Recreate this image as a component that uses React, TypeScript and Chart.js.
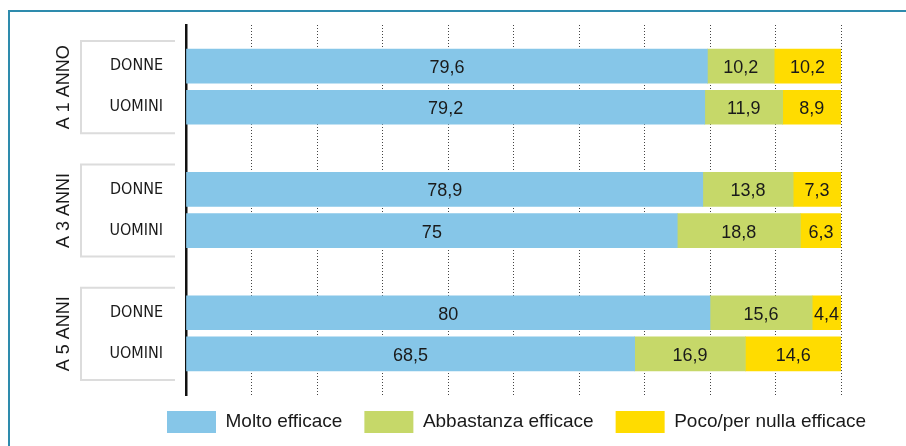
import { useEffect, useRef } from "react";
import { Chart, registerables } from "chart.js";

Chart.register(...registerables);

// ---- data ----
const groups = ["A 1 ANNO", "A 3 ANNI", "A 5 ANNI"];
const subCategories = ["DONNE", "UOMINI"];
const seriesNames = ["Molto efficace", "Abbastanza efficace", "Poco/per nulla efficace"];
const molto = [79.6, 79.2, 78.9, 75, 80, 68.5];
const abbastanza = [10.2, 11.9, 13.8, 18.8, 15.6, 16.9];
const poco = [10.2, 8.9, 7.3, 6.3, 4.4, 14.6];
const seriesColors = ["#86C6E8", "#C6D869", "#FFDC00"];
const xMin = 0;
const xMax = 100;
const xStep = 10;

// spacer slots between groups: '', D, U, '', D, U, '', D, U, ''
const labels: string[] = [""];
groups.forEach(() => {
  subCategories.forEach((s) => labels.push(s));
  labels.push("");
});
const padSeries = (arr: number[]) => {
  const out: (number | null)[] = [null];
  groups.forEach((_, gi) => {
    subCategories.forEach((__, si) => out.push(arr[gi * subCategories.length + si]));
    out.push(null);
  });
  return out;
};

const FONT = '"Liberation Sans", Arimo, Arial, sans-serif';
const NARROW = '"Liberation Sans Narrow", "Arial Narrow", "DejaVu Sans Condensed", sans-serif';
const TEXT = "#1a1a1a";

const groupPlugin = {
  id: "groupBrackets",
  afterDraw(chart: any) {
    const ctx = chart.ctx;
    const y = chart.scales.y;
    const left = chart.chartArea.left;
    groups.forEach((g, gi) => {
      const i0 = 1 + gi * (subCategories.length + 1);
      const i1 = i0 + subCategories.length - 1;
      const top = y.getPixelForValue(i0) - 25;
      const bottom = y.getPixelForValue(i1) + 26;
      ctx.save();
      ctx.strokeStyle = "#dcdcdc";
      ctx.lineWidth = 2;
      ctx.beginPath();
      ctx.moveTo(left - 11, top);
      ctx.lineTo(left - 105, top);
      ctx.lineTo(left - 105, bottom);
      ctx.lineTo(left - 11, bottom);
      ctx.stroke();
      ctx.translate(left - 122, (top + bottom) / 2);
      ctx.rotate(-Math.PI / 2);
      ctx.font = "18px " + FONT;
      ctx.fillStyle = TEXT;
      ctx.textAlign = "center";
      ctx.textBaseline = "middle";
      ctx.fillText(g, 0, 0);
      ctx.restore();
    });
  },
};

const valuePlugin = {
  id: "valueLabels",
  afterDatasetsDraw(chart: any) {
    const ctx = chart.ctx;
    ctx.save();
    ctx.font = "18px " + FONT;
    ctx.fillStyle = TEXT;
    ctx.textAlign = "center";
    ctx.textBaseline = "middle";
    chart.data.datasets.forEach((ds: any, di: number) => {
      const meta = chart.getDatasetMeta(di);
      meta.data.forEach((bar: any, i: number) => {
        const v = ds.data[i];
        if (v == null) return;
        const p = bar.getProps(["x", "y", "base"], true);
        ctx.fillText(String(v).replace(".", ","), (p.x + p.base) / 2, p.y + 2);
      });
    });
    ctx.restore();
  },
};

// place the legend row so that it starts under the plot like in the original
const legendPlace = {
  id: "legendPlace",
  afterLayout(chart: any) {
    const lg = chart.legend;
    if (!lg) return;
    lg.left = 145;
    lg.right = 906;
  },
};

export default function App() {
  const ref = useRef<HTMLCanvasElement | null>(null);

  useEffect(() => {
    if (!ref.current) return;
    const chart = new Chart(ref.current, {
      type: "bar",
      data: {
        labels,
        datasets: [molto, abbastanza, poco].map((arr, k) => ({
          label: seriesNames[k],
          data: padSeries(arr),
          backgroundColor: seriesColors[k],
          borderWidth: 0,
          barThickness: 34,
        })),
      },
      options: {
        indexAxis: "y",
        animation: false,
        responsive: false,
        devicePixelRatio: 1,
        layout: { padding: { left: 0, right: 65, top: 25, bottom: -3 } },
        scales: {
          x: {
            stacked: true,
            min: xMin,
            max: xMax,
            ticks: { display: false, stepSize: xStep },
            grid: { color: "#444", lineWidth: 1, drawTicks: false },
            border: { display: false, dash: [1, 2] },
            afterFit: (s: any) => {
              s.height = -6;
              s.paddingLeft = 0;
              s.paddingRight = 0;
            },
          },
          y: {
            type: "category",
            stacked: true,
            offset: false,
            grid: { display: false, drawTicks: false },
            border: { display: true, color: "#111", width: 2.5 },
            ticks: {
              autoSkip: false,
              padding: 23,
              color: TEXT,
              font: { family: NARROW, size: 16 },
            },
            afterFit: (s: any) => {
              s.width = 186;
              s.paddingTop = 0;
              s.paddingBottom = 0;
            },
          },
        },
        plugins: {
          legend: {
            position: "bottom",
            align: "start",
            fullSize: true,
            labels: {
              boxWidth: 49,
              boxHeight: 22,
              padding: 22,
              color: TEXT,
              font: { family: FONT, size: 19 },
            },
          },
          tooltip: { enabled: false },
        },
      },
      plugins: [groupPlugin, valuePlugin, legendPlace],
    } as any);
    return () => chart.destroy();
  }, []);

  return (
    <div
      style={{
        position: "fixed",
        left: 0,
        top: 0,
        width: 906,
        height: 446,
        overflow: "hidden",
        background: "#fff",
      }}
    >
      <div
        style={{
          position: "absolute",
          left: 8,
          top: 10,
          width: 1000,
          height: 1000,
          borderTop: "2px solid #2e8bad",
          borderLeft: "2px solid #2e8bad",
        }}
      />
      <canvas
        ref={ref}
        width={906}
        height={446}
        style={{ position: "absolute", left: 0, top: 0, width: 906, height: 446 }}
      />
    </div>
  );
}
